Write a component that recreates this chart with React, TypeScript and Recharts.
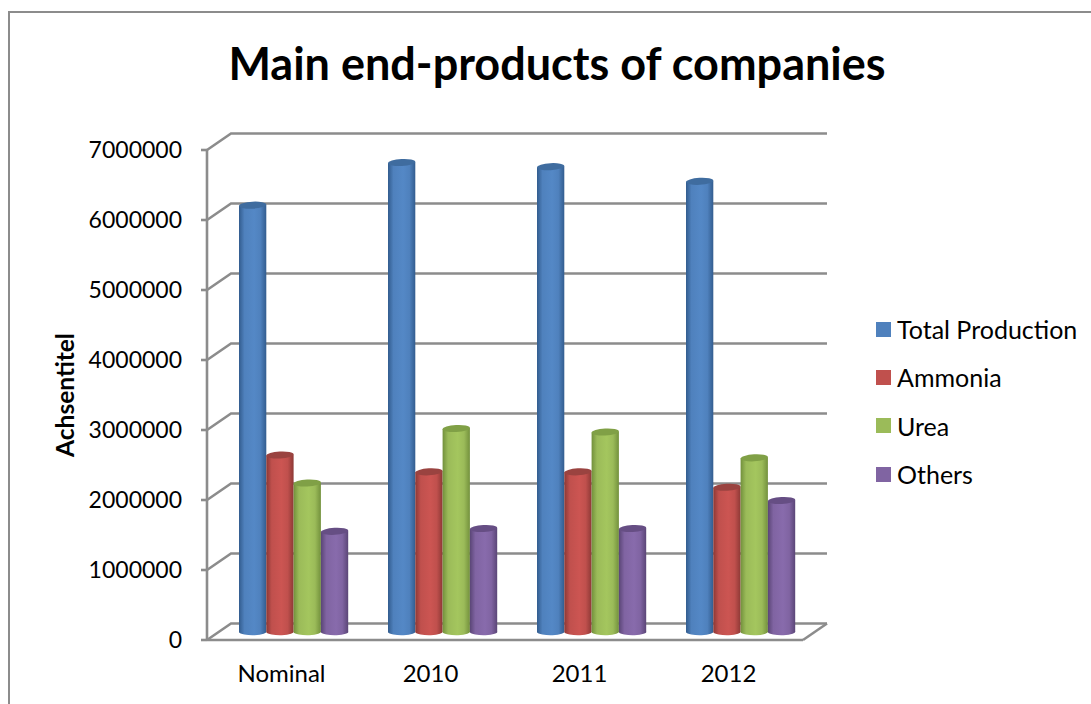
import { Bar, BarChart, CartesianGrid, Legend, XAxis, YAxis } from "recharts";

const categories = ["Nominal", "2010", "2011", "2012"];
const totalProduction = [6080000, 6690000, 6630000, 6420000];
const ammonia = [2510000, 2270000, 2270000, 2050000];
const urea = [2110000, 2890000, 2840000, 2470000];
const others = [1420000, 1460000, 1460000, 1860000];
const yTicks = [0, 1000000, 2000000, 3000000, 4000000, 5000000, 6000000, 7000000];

const data = categories.map((name, i) => ({
  name,
  total: totalProduction[i],
  ammonia: ammonia[i],
  urea: urea[i],
  others: others[i],
}));

const series = [
  { key: "total", label: "Total Production", color: "#4f81bd", light: "#5488c6", edge: "#325c8e", top: "#3f6c9f" },
  { key: "ammonia", label: "Ammonia", color: "#c0504d", light: "#cc5552", edge: "#8c3835", top: "#9a4340" },
  { key: "urea", label: "Urea", color: "#9bbb59", light: "#a4c65e", edge: "#72903c", top: "#80a046" },
  { key: "others", label: "Others", color: "#8064a2", light: "#886bac", edge: "#5a4576", top: "#664e84" },
];

const font = "Lato, sans-serif";
const gridColor = "#8c8c8c";

// 3D wall depth, and the half-way depth where the columns stand
const depthX = 24;
const depthY = -16.5;
const midX = depthX / 2;
const midY = -8.75;
const capRy = 3.5;

// A column: shaded body with a tilted elliptical cap, pushed back to mid depth
function Cylinder(props: any) {
  const { x, y, width, height, seriesKey, top } = props;
  const left = x + midX;
  const right = left + width;
  const cy = y + midY;
  const base = cy + height + 1;
  const body =
    `M${left},${cy} L${left},${base} ` +
    `A${width / 2},${capRy} 0 0 0 ${right},${base - 1} ` +
    `L${right},${cy - 1} Z`;
  return (
    <g>
      <path d={body} fill={`url(#cyl-${seriesKey})`} />
      <ellipse
        cx={left + width / 2}
        cy={cy - 0.5}
        rx={width / 2}
        ry={capRy}
        fill={top}
        transform={`rotate(-3 ${left + width / 2} ${cy - 0.5})`}
      />
    </g>
  );
}

// Horizontal grid drawn as back wall line plus the diagonal running to the front.
// The bottom line also closes the floor on the right.
function WallLine(props: any) {
  const { x1, x2, y1 } = props;
  const isFloor = y1 > 630;
  return (
    <g fill="none" stroke={gridColor} strokeWidth={2.6}>
      <polyline points={`${x1},${y1} ${x1 + depthX},${y1 + depthY} ${x2 + depthX},${y1 + depthY}`} />
      {isFloor && <line x1={x2} y1={y1} x2={x2 + depthX} y2={y1 + depthY} />}
    </g>
  );
}

function LegendList({ payload }: any) {
  return (
    <div style={{ fontFamily: font, fontSize: 25, color: "#000" }}>
      {payload.map((item: any) => (
        <div key={item.value} style={{ display: "flex", alignItems: "center", height: 48.3 }}>
          <span style={{ width: 15, height: 15, background: item.color, marginRight: 6 }} />
          <span>{item.value}</span>
        </div>
      ))}
    </div>
  );
}

export default function App() {
  return (
    <div
      style={{
        position: "absolute",
        left: 0,
        top: 0,
        width: 1091,
        height: 704,
        overflow: "hidden",
        background: "#fff",
      }}
    >
      <div
        style={{
          position: "absolute",
          left: 8,
          top: 11,
          width: 1200,
          height: 800,
          border: "2px solid #8c8c8c",
        }}
      />
      <div
        style={{
          position: "absolute",
          left: 0,
          width: 1114,
          top: 35,
          textAlign: "center",
          fontFamily: font,
          fontWeight: 700,
          fontSize: 45,
          lineHeight: "56px",
          color: "#000",
        }}
      >
        Main end-products of companies
      </div>
      <BarChart
        width={1091}
        height={704}
        data={data}
        margin={{ top: 150, right: 73, bottom: 0, left: 0 }}
        barCategoryGap={20}
        barGap={0}
        style={{ position: "absolute", left: 0, top: 0 }}
      >
        <defs>
          {series.map((s) => (
            <linearGradient key={s.key} id={`cyl-${s.key}`} x1="0" y1="0" x2="1" y2="0">
              <stop offset="0%" stopColor={s.edge} />
              <stop offset="20%" stopColor={s.color} />
              <stop offset="55%" stopColor={s.light} />
              <stop offset="78%" stopColor={s.color} />
              <stop offset="100%" stopColor={s.edge} />
            </linearGradient>
          ))}
        </defs>
        <CartesianGrid vertical={false} horizontal={(p: any) => <WallLine {...p} />} />
        <XAxis
          dataKey="name"
          height={64}
          tickLine={false}
          axisLine={{ stroke: gridColor, strokeWidth: 2.6 }}
          tick={{ fontFamily: font, fontSize: 24, fill: "#000" }}
          tickMargin={19}
        />
        <YAxis
          width={207}
          domain={[0, 7000000]}
          ticks={yTicks}
          interval={0}
          tickSize={6}
          tickMargin={19}
          tickLine={{ stroke: gridColor, strokeWidth: 2.6 }}
          axisLine={{ stroke: gridColor, strokeWidth: 2.6 }}
          tick={{ fontFamily: font, fontSize: 23, fill: "#000" }}
          label={{
            value: "Achsentitel",
            angle: -90,
            position: "insideLeft",
            offset: 65,
            style: { fontFamily: font, fontWeight: 700, fontSize: 24.5, fill: "#000", textAnchor: "middle" },
          }}
        />
        <Legend
          layout="vertical"
          align="right"
          verticalAlign="top"
          itemSorter={null}
          content={(p: any) => <LegendList {...p} />}
          wrapperStyle={{ left: 876, top: 305, width: 215, right: "auto" }}
        />
        {series.map((s) => (
          <Bar
            key={s.key}
            dataKey={s.key}
            name={s.label}
            fill={s.color}
            barSize={27.3}
            isAnimationActive={false}
            shape={(p: any) => <Cylinder {...p} seriesKey={s.key} top={s.top} />}
          />
        ))}
      </BarChart>
    </div>
  );
}
